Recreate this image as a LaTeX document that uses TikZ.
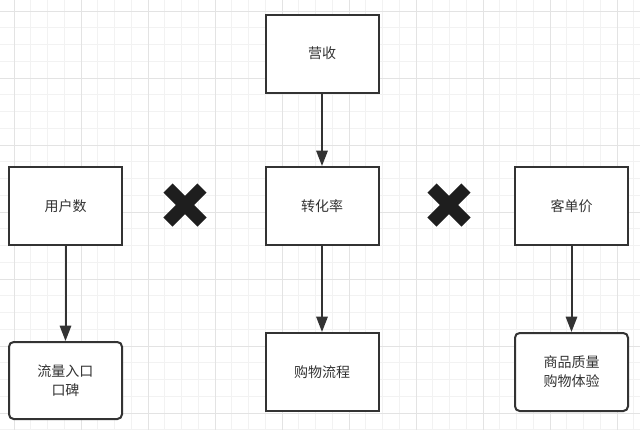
\documentclass[tikz,border=0pt]{standalone}
\usepackage{fontspec}
\setmainfont{Noto Sans CJK SC}
\usetikzlibrary{arrows.meta}
\definecolor{ink}{HTML}{333333}
\definecolor{gridminor}{HTML}{F2F2F2}
\definecolor{gridmajor}{HTML}{E3E3E3}
\definecolor{xcol}{HTML}{1E1E1E}
\tikzset{
  box/.style={draw=ink, line width=1.5pt, fill=white, minimum width=84.75pt, minimum height=58.5pt, inner sep=0pt, text=ink, font=\fontsize{10.5pt}{14.25pt}\selectfont, align=center},
  rbox/.style={box, rounded corners=3.5pt},
  conn/.style={draw=ink, line width=1.5pt, -{Triangle[length=11.5pt,width=8.5pt]}},
  xmark/.style={draw=xcol, line width=9.75pt, line cap=butt}
}
\begin{document}
\begin{tikzpicture}[x=0.75pt,y=-0.75pt]
\useasboundingbox (0,0) rectangle (640,430);
\fill[white] (0,0) rectangle (640,430);
% minor grid
\foreach \i in {0,...,39} {
  \pgfmathsetmacro\gx{14+(\i-1)*16.75}
  \draw[gridminor, line width=0.75pt] (\gx,0) -- (\gx,430);
}
\foreach \j in {0,...,27} {
  \pgfmathsetmacro\gy{11+(\j-1)*16.75}
  \draw[gridminor, line width=0.75pt] (0,\gy) -- (640,\gy);
}
% major grid
\foreach \i in {0,...,9} {
  \pgfmathsetmacro\gx{14+\i*67}
  \draw[gridmajor, line width=0.75pt] (\gx,0) -- (\gx,430);
}
\foreach \j in {0,...,6} {
  \pgfmathsetmacro\gy{11+\j*67}
  \draw[gridmajor, line width=0.75pt] (0,\gy) -- (640,\gy);
}
% nodes
\node[box] (rev) at (322,53.5) {营收};
\node[box] (users) at (65.5,206) {用户数};
\node[box] (conv) at (322,206) {转化率};
\node[box] (aov) at (571.5,206) {客单价};
\node[rbox, minimum height=57.75pt] (traffic) at (65.5,380.5) {流量入口\\口碑};
\node[box] (flow) at (322,372) {购物流程};
\node[rbox] (quality) at (571.5,372) {商品质量\\购物体验};
% connectors
\draw[conn] (rev) -- (conv);
\draw[conn] (users) -- (traffic);
\draw[conn] (conv) -- (flow);
\draw[conn] (aov) -- (quality);
% multiplication marks
\draw[xmark] (168,188) -- (202,222);
\draw[xmark] (168,222) -- (202,188);
\draw[xmark] (432,188) -- (466,222);
\draw[xmark] (432,222) -- (466,188);
\end{tikzpicture}
\end{document}
